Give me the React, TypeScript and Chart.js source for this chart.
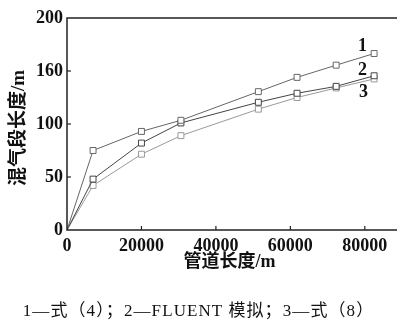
import React, { useEffect, useRef } from "react";
import { Chart, registerables } from "chart.js";

Chart.register(...registerables);

const xValues = [0, 7000, 20000, 30600, 51400, 61800, 72300, 82500];
const series1 = [0, 75, 93, 103.5, 130.5, 144, 155.5, 166.5];
const series2 = [0, 48, 82, 101, 120.5, 129, 135.5, 145.5];
const series3 = [0, 42, 71.5, 89, 114, 125, 134, 142.5];
const seriesLabels = ["1", "2", "3"];
const xTickValues = [0, 20000, 40000, 60000, 80000];
const yTickValues = [0, 50, 100, 150, 200];
const yTickLabels = ["0", "50", "100", "160", "200"];
const xTitle = "管道长度/m";
const yTitle = "混气段长度/m";
const caption = "1—式（4）；2—FLUENT 模拟；3—式（8）";

const LATIN = "'Liberation Serif', 'Times New Roman', serif";
const CJK = "'Liberation Serif', 'Noto Sans CJK SC', serif";

const labelOffsets = [
  { dx: -11.5, dy: -7.5 },
  { dx: -11.5, dy: -5.5 },
  { dx: -10.5, dy: 13.5 },
];

const framePlugin = {
  id: "frame",
  afterDatasetsDraw(chart: any) {
    const { ctx, chartArea, scales } = chart;
    const { left, right, top, bottom } = chartArea;
    ctx.save();
    ctx.strokeStyle = "#222";
    ctx.lineWidth = 1.5;
    ctx.strokeRect(left, top, chart.width - left + 4, bottom - top);
    ctx.lineWidth = 1.2;
    scales.x.ticks.forEach((t: any) => {
      const px = scales.x.getPixelForValue(t.value);
      if (px <= left + 1) return;
      ctx.beginPath();
      ctx.moveTo(px, bottom);
      ctx.lineTo(px, bottom - 4);
      ctx.stroke();
    });
    scales.y.ticks.forEach((t: any) => {
      const py = scales.y.getPixelForValue(t.value);
      if (py >= bottom - 1 || py <= top + 1) return;
      ctx.beginPath();
      ctx.moveTo(left, py);
      ctx.lineTo(left + 4, py);
      ctx.stroke();
    });
    ctx.fillStyle = "#111";
    ctx.font = `bold 18px ${LATIN}`;
    ctx.textAlign = "center";
    ctx.textBaseline = "middle";
    chart.data.datasets.forEach((ds: any, i: number) => {
      const meta = chart.getDatasetMeta(i);
      const last = meta.data[meta.data.length - 1];
      const off = labelOffsets[i];
      ctx.fillText(seriesLabels[i], last.x + off.dx, last.y + off.dy);
    });
    // y-axis title
    ctx.save();
    ctx.translate(19, (top + bottom) / 2 + 4);
    ctx.rotate(-Math.PI / 2);
    ctx.font = `bold 19px ${CJK}`;
    ctx.fillText(yTitle, 0, 0);
    ctx.restore();
    ctx.restore();
  },
};

export default function App() {
  const ref = useRef<HTMLCanvasElement>(null);
  useEffect(() => {
    document.body.style.margin = "0";
    const mk = (data: number[], color: string) => ({
      data: xValues.map((x, i) => ({ x, y: data[i] })),
      borderColor: color,
      borderWidth: 1,
      pointStyle: "rect",
      pointRadius: data.map((_, i) => (i === 0 ? 0 : 4.2)),
      pointBorderColor: color,
      pointBorderWidth: 1,
      pointBackgroundColor: "#fff",
      fill: false,
      tension: 0,
    });
    const chart = new Chart(ref.current!, {
      type: "line",
      data: {
        datasets: [mk(series1, "#666"), mk(series2, "#444"), mk(series3, "#999")],
      },
      options: {
        animation: false,
        responsive: false,
        maintainAspectRatio: false,
        layout: { padding: { top: 18, right: 0, bottom: 45, left: 0 } },
        plugins: { legend: { display: false }, tooltip: { enabled: false } },
        scales: {
          x: {
            type: "linear",
            min: 0,
            max: 87250,
            grid: { display: false, drawTicks: false },
            border: { display: false },
            afterBuildTicks: (s: any) => {
              s.ticks = xTickValues.map((v) => ({ value: v }));
            },
            ticks: {
              maxRotation: 0,
              autoSkip: false,
              padding: 6,
              color: "#111",
              font: { family: LATIN, size: 18, weight: "bold" },
              callback: (v: any) => String(v),
            },
            title: {
              display: true,
              text: xTitle,
              color: "#111",
              font: { family: CJK, size: 18, weight: "bold" },
              padding: { top: 0, bottom: 7 },
            },
            afterFit: (s: any) => {
              s.height = 50;
            },
          },
          y: {
            type: "linear",
            min: 0,
            max: 200,
            grid: { display: false, drawTicks: false },
            border: { display: false },
            afterBuildTicks: (s: any) => {
              s.ticks = yTickValues.map((v) => ({ value: v }));
            },
            ticks: {
              padding: 4,
              autoSkip: false,
              color: "#111",
              font: { family: LATIN, size: 18, weight: "bold" },
              callback: (_v: any, i: number) => yTickLabels[i],
            },
            title: { display: false, text: yTitle },
            afterFit: (s: any) => {
              s.width = 67;
            },
          },
        },
      },
      plugins: [framePlugin],
    });
    return () => chart.destroy();
  }, []);
  return (
    <div style={{ position: "fixed", left: 0, top: 0, width: 397, height: 325, background: "#fff" }}>
      <canvas ref={ref} width={397} height={325} style={{ width: 397, height: 325, display: "block" }} />
      <div
        style={{
          position: "absolute",
          left: 0,
          width: 397,
          top: 296,
          textAlign: "center",
          fontFamily: CJK,
          fontSize: 17,
          letterSpacing: 1.1,
          color: "#111",
          whiteSpace: "nowrap",
        }}
      >
        {caption}
      </div>
    </div>
  );
}
